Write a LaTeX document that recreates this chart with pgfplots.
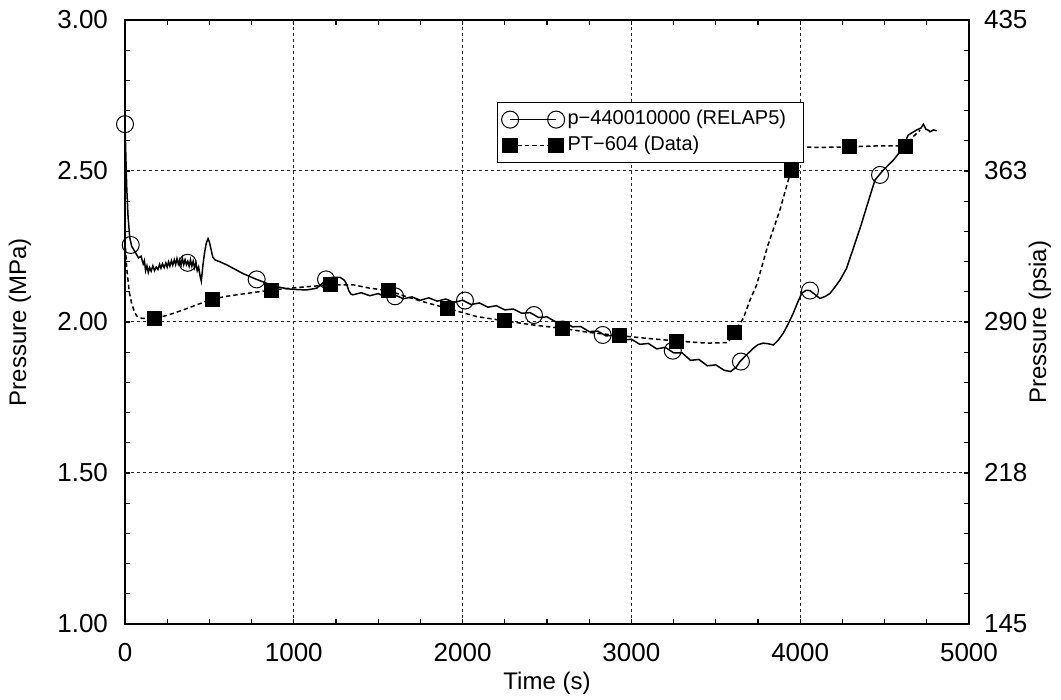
\documentclass[border=0pt]{standalone}
\usepackage{fontspec}
\setmainfont{Liberation Sans}
\usepackage{pgfplots}
\pgfplotsset{compat=1.18}

% RELAP5 calculation, pressure p-440010000 (s, MPa)
\pgfplotstableread{
t p
0 2.660
5 2.550
10 2.450
18 2.350
28 2.280
40 2.250
60 2.232
80 2.212
95 2.218
108 2.192
115 2.203
122 2.170
130 2.186
138 2.164
146 2.180
155 2.168
165 2.186
175 2.170
185 2.182
195 2.174
205 2.191
213 2.178
222 2.193
232 2.180
242 2.196
250 2.182
258 2.199
266 2.185
275 2.203
283 2.188
292 2.206
300 2.190
308 2.210
316 2.192
324 2.206
332 2.188
340 2.211
348 2.190
356 2.206
364 2.190
372 2.201
380 2.185
388 2.206
396 2.185
404 2.201
412 2.180
420 2.196
428 2.170
436 2.182
444 2.155
452 2.135
462 2.190
472 2.232
482 2.262
492 2.276
500 2.265
510 2.240
520 2.215
535 2.205
560 2.200
600 2.190
650 2.175
700 2.160
780 2.141
840 2.128
898 2.117
960 2.110
1000 2.108
1076 2.106
1136 2.112
1170 2.128
1195 2.143
1230 2.148
1274 2.148
1300 2.138
1313 2.125
1325 2.105
1337 2.093
1350 2.090
1400 2.097
1450 2.087
1500 2.094
1550 2.082
1600 2.089
1650 2.077
1700 2.083
1750 2.072
1800 2.080
1850 2.069
1900 2.076
1950 2.065
2000 2.072
2050 2.058
2100 2.063
2150 2.049
2200 2.054
2250 2.040
2300 2.043
2350 2.029
2400 2.031
2450 2.015
2500 2.017
2550 2.001
2600 2.002
2650 1.984
2700 1.985
2750 1.968
2800 1.970
2850 1.954
2900 1.956
2950 1.940
3000 1.943
3050 1.926
3100 1.929
3150 1.911
3200 1.916
3250 1.898
3300 1.898
3350 1.873
3400 1.876
3450 1.855
3500 1.858
3550 1.840
3588 1.836
3620 1.850
3643 1.869
3680 1.890
3722 1.913
3750 1.925
3781 1.930
3810 1.928
3841 1.924
3870 1.940
3900 1.963
3930 1.995
3959 2.029
3985 2.065
4009 2.095
4035 2.105
4058 2.104
4090 2.090
4117 2.078
4150 2.085
4177 2.095
4205 2.115
4236 2.139
4275 2.178
4300 2.220
4325 2.261
4364 2.327
4404 2.400
4443 2.470
4492 2.503
4552 2.536
4601 2.570
4640 2.619
4690 2.636
4715 2.642
4730 2.655
4745 2.638
4760 2.635
4769 2.630
4790 2.636
4809 2.633
}\relapline

\pgfplotstableread{
t p
0 2.655
34 2.255
371 2.196
780 2.141
1191 2.141
1600 2.085
2014 2.071
2423 2.023
2830 1.957
3245 1.905
3649 1.869
4058 2.104
4473 2.487
}\relapmarks

% Measured pressure PT-604 (s, MPa)
\pgfplotstableread{
t p
0 2.270
10 2.180
25 2.100
40 2.060
55 2.035
69 2.020
100 2.012
174 2.012
250 2.022
345 2.040
430 2.058
519 2.076
600 2.085
701 2.093
869 2.106
1017 2.114
1214 2.123
1353 2.123
1450 2.112
1562 2.104
1660 2.085
1767 2.067
1911 2.045
2083 2.018
2247 2.004
2419 1.990
2589 1.979
2755 1.965
2928 1.955
3090 1.946
3268 1.937
3446 1.930
3574 1.932
3604 1.963
3663 2.012
3703 2.073
3742 2.123
3809 2.255
3880 2.371
3946 2.503
3975 2.550
3999 2.580
4117 2.578
4289 2.580
4453 2.583
4625 2.583
4670 2.614
4710 2.635
}\dataline

\pgfplotstableread{
t p
174 2.012
519 2.076
869 2.106
1214 2.123
1562 2.104
1911 2.045
2247 2.004
2589 1.979
2928 1.955
3268 1.937
3610 1.965
3946 2.503
4289 2.580
4625 2.583
}\datamarks

\begin{document}
\begin{tikzpicture}
\path[use as bounding box] (-62.5pt,-38pt) rectangle (468pt,312pt);
\begin{axis}[
  at={(0pt,0pt)}, anchor=south west,
  scale only axis, width=422pt, height=302pt,
  xmin=0, xmax=5000, ymin=1, ymax=3,
  clip=false,
  xtick={0,1000,2000,3000,4000,5000},
  ytick={1,1.5,2,2.5,3},
  minor x tick num=3, minor y tick num=4,
  tick align=inside,
  major tick length=2.5pt, minor tick length=2.5pt,
  tick style={black, line width=0.6pt},
  axis line style={black, line width=0.8pt},
  grid=major,
  major grid style={black!85, line width=0.5pt, dash pattern=on 1.5pt off 1.5pt},
  font=\fontsize{12}{14}\selectfont,
  tick label style={font=\fontsize{13}{15}\selectfont},
  /pgf/number format/assume math mode=true,
  scaled ticks=false,
  xticklabel style={/pgf/number format/1000 sep={}, yshift=-6pt},
  yticklabel style={/pgf/number format/fixed, /pgf/number format/fixed zerofill,
    /pgf/number format/precision=2, xshift=-5pt},
  xlabel={Time (s)},
  ylabel={Pressure (MPa)},
  xlabel style={at={(axis description cs:0.5,0)}, anchor=center, yshift=-29.5pt},
  ylabel style={at={(axis description cs:-0.1244,0.5)}, anchor=center},
  legend style={at={(axis description cs:0.4408,0.8642)}, anchor=north west,
    draw=black, line width=0.6pt, fill=white,
    font=\fontsize{10}{12}\selectfont,
    inner xsep=2pt, inner ysep=2pt,
    nodes={inner sep=1.5pt, text height=7.5pt, text depth=2.5pt},
    /tikz/every even column/.append style={column sep=4pt}},
  legend cell align=left,
  legend image code/.code={\draw[#1] plot coordinates {(0pt,0pt) (23pt,0pt)};},
]
\addplot[black, line width=0.75pt, forget plot] table {\relapline};
\addplot[black, only marks, mark=o, mark size=4.25pt, mark options={line width=0.5pt}, forget plot] table {\relapmarks};
\addplot[black, line width=0.75pt, dash pattern=on 2.2pt off 1.5pt, forget plot] table {\dataline};
\addplot[black, only marks, mark=square*, mark size=3.5pt, forget plot] table {\datamarks};

\addlegendimage{black, line width=0.6pt, mark=o, mark size=4.25pt, mark options={solid, line width=0.5pt}}
\addlegendentry{p−440010000 (RELAP5)\hspace*{5pt}}
\addlegendimage{black, line width=0.75pt, dash pattern=on 2.2pt off 1.5pt, mark=square*, mark size=3.5pt, mark options={solid}}
\addlegendentry{PT−604 (Data)}
\end{axis}

\begin{axis}[
  at={(0pt,0pt)}, anchor=south west,
  scale only axis, width=422pt, height=302pt,
  xmin=0, xmax=5000, ymin=1, ymax=3,
  axis x line=none, axis y line*=right,
  axis line style={black, line width=0.8pt, -},
  ytick={1,1.5,2,2.5,3},
  yticklabels={145,218,290,363,435},
  major tick length=0pt,
  font=\fontsize{12}{14}\selectfont,
  tick label style={font=\fontsize{13}{15}\selectfont},
  yticklabel style={xshift=4pt},
  ylabel={Pressure (psia)},
  ylabel style={at={(axis description cs:1.0841,0.5)}, anchor=center, rotate=0},
]
\end{axis}
\end{tikzpicture}
\end{document}
